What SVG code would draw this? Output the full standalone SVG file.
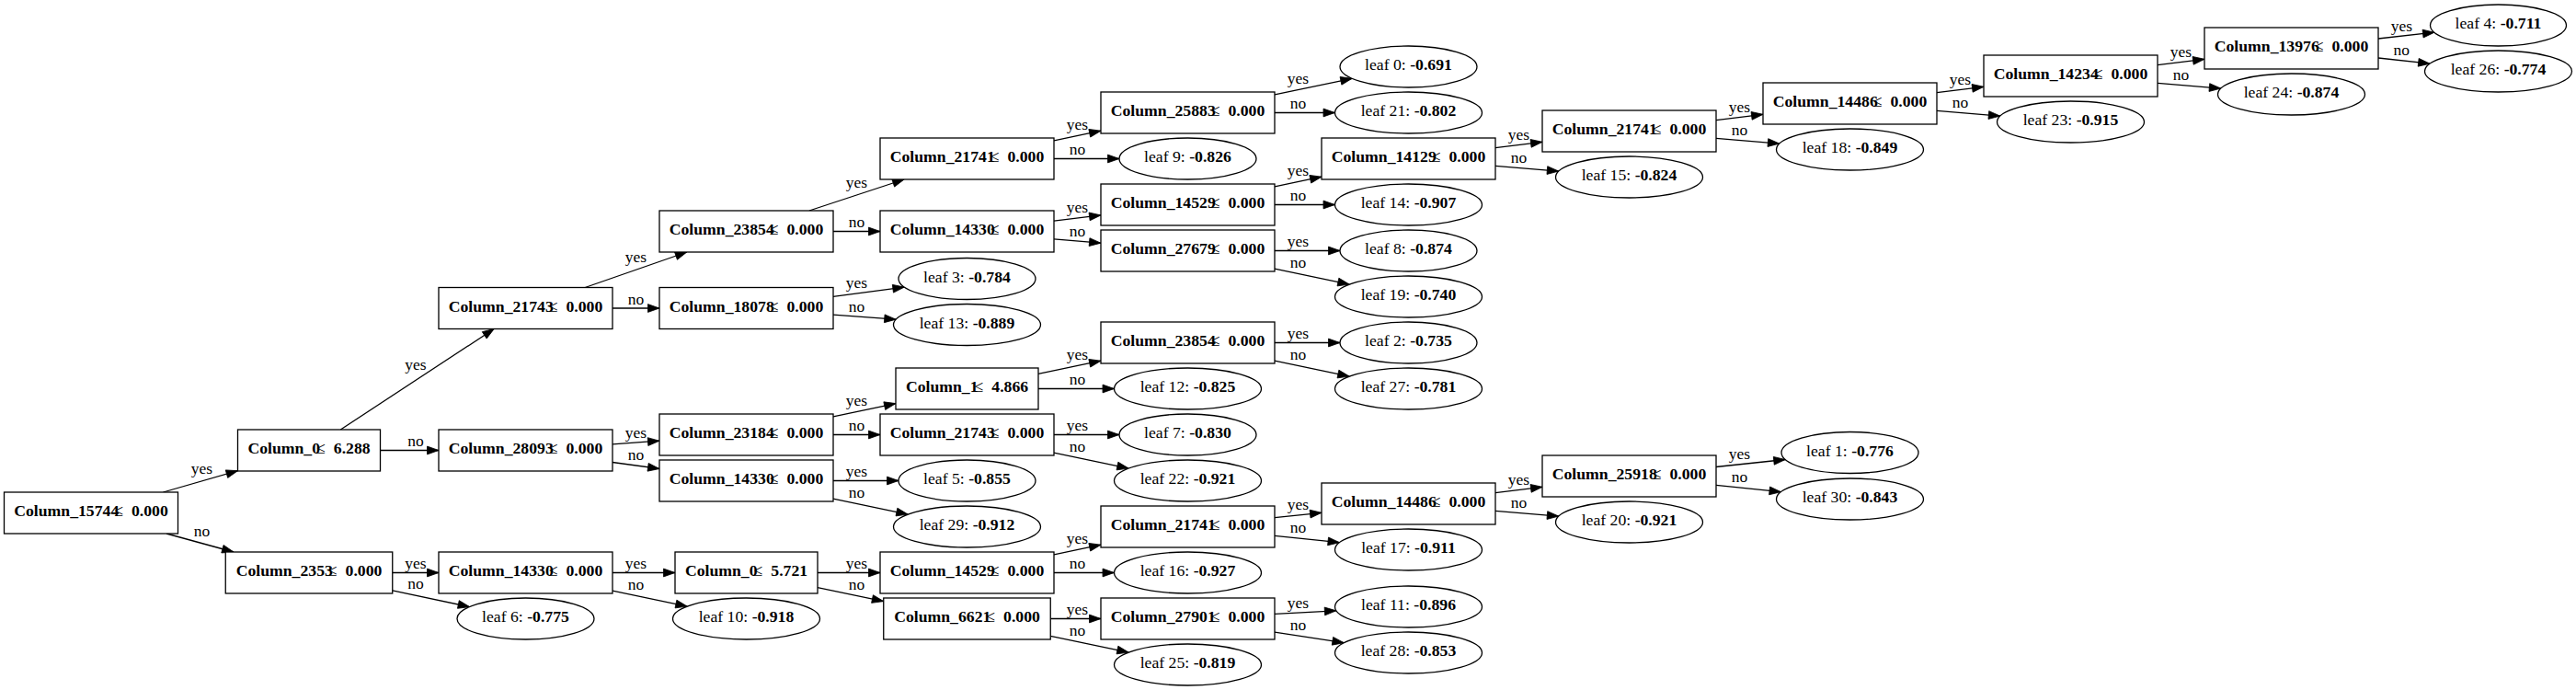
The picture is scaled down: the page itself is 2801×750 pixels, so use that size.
<svg xmlns="http://www.w3.org/2000/svg" width="2801" height="750" viewBox="0 0 2801 750">
<style>
.node rect,.node ellipse{fill:#fff;stroke:#000;stroke-width:1.3}
.node text{font-family:"Liberation Serif","Times New Roman",serif;font-size:17.7px;text-anchor:middle;fill:#000}
.b{font-weight:bold}
#edges path{fill:none;stroke:#000;stroke-width:1.3;marker-end:url(#arr)}
#edges text{font-family:"Liberation Serif","Times New Roman",serif;font-size:17.5px;text-anchor:middle;fill:#000}
</style>
<defs>
<marker id="arr" markerUnits="userSpaceOnUse" markerWidth="14" markerHeight="10" refX="12.5" refY="4.4" orient="auto" overflow="visible">
<path d="M0,0 L12.5,4.4 L0,8.8 Z" fill="#000" stroke="#000" stroke-width="0.8"/>
</marker>
</defs>
<rect width="2801" height="750" fill="#fff"/>
<g id="edges">
<path d="M177.4,535 L258.5,511.7"/><text x="219.4" y="515.3">yes</text>
<path d="M181,580 L254,600"/><text x="219.4" y="583">no</text>
<path d="M370.3,467 L537.2,357.5"/><text x="451.9" y="401.8">yes</text>
<path d="M413.5,489.5 L477,489.5"/><text x="451.9" y="485">no</text>
<path d="M636.2,312.5 L746.8,274"/><text x="691.5" y="285">yes</text>
<path d="M666,335 L717,335"/><text x="691.5" y="330.5">no</text>
<path d="M879.9,229 L983.1,195"/><text x="931.5" y="203.9">yes</text>
<path d="M906,251.5 L957,251.5"/><text x="931.5" y="247">no</text>
<path d="M1146,152.8 L1197,142.2"/><text x="1171.5" y="140.7">yes</text>
<path d="M1146,172.5 L1217,172.5"/><text x="1171.5" y="168">no</text>
<path d="M1386,102.8 L1470.2,85.3"/><text x="1411.5" y="90.7">yes</text>
<path d="M1386,122.5 L1451.5,122.5"/><text x="1411.5" y="118">no</text>
<path d="M1146,240.1 L1197,233.9"/><text x="1171.5" y="231.2">yes</text>
<path d="M1146,259.8 L1197,264.2"/><text x="1171.5" y="256.5">no</text>
<path d="M1386,202.8 L1437,192.2"/><text x="1411.5" y="190.7">yes</text>
<path d="M1386,222.5 L1451.5,222.5"/><text x="1411.5" y="218">no</text>
<path d="M1626,160.7 L1677,154.3"/><text x="1651.5" y="151.6">yes</text>
<path d="M1626,180.4 L1694.8,186.1"/><text x="1651.5" y="177.1">no</text>
<path d="M1866,130.7 L1917,124.3"/><text x="1891.5" y="121.6">yes</text>
<path d="M1866,150.4 L1934.8,156.1"/><text x="1891.5" y="147.1">no</text>
<path d="M2106,100.7 L2157,94.3"/><text x="2131.5" y="91.6">yes</text>
<path d="M2106,120.4 L2174.8,126.1"/><text x="2131.5" y="117.1">no</text>
<path d="M2346,70.7 L2397,64.3"/><text x="2371.5" y="61.6">yes</text>
<path d="M2346,90.4 L2414.8,96.1"/><text x="2371.5" y="87.1">no</text>
<path d="M2586,42 L2647,35.2"/><text x="2611.3" y="33.5">yes</text>
<path d="M2586,63 L2642.1,69.2"/><text x="2611.3" y="60.1">no</text>
<path d="M1386,272.5 L1457,272.5"/><text x="1411.5" y="268">yes</text>
<path d="M1386,292.2 L1467.2,309.1"/><text x="1411.5" y="290.7">no</text>
<path d="M906,322.4 L983.3,312.1"/><text x="931.5" y="313">yes</text>
<path d="M906,342.1 L974.2,347.2"/><text x="931.5" y="338.7">no</text>
<path d="M666,482.8 L717,479.2"/><text x="691.5" y="475.7">yes</text>
<path d="M666,502.5 L717,509.5"/><text x="691.5" y="500">no</text>
<path d="M906,452.8 L974,438.6"/><text x="931.5" y="440.7">yes</text>
<path d="M906,472.5 L957,472.5"/><text x="931.5" y="468">no</text>
<path d="M1129,406.4 L1197,392.2"/><text x="1171.5" y="390.7">yes</text>
<path d="M1129,422.5 L1211.5,422.5"/><text x="1171.5" y="418">no</text>
<path d="M1386,372.5 L1457,372.5"/><text x="1411.5" y="368">yes</text>
<path d="M1386,392.2 L1467.2,409.1"/><text x="1411.5" y="390.7">no</text>
<path d="M1146,472.5 L1217,472.5"/><text x="1171.5" y="468">yes</text>
<path d="M1146,492.2 L1227.2,509.1"/><text x="1171.5" y="490.7">no</text>
<path d="M906,522.5 L977,522.5"/><text x="931.5" y="518">yes</text>
<path d="M906,542.2 L987.2,559.1"/><text x="931.5" y="540.7">no</text>
<path d="M426.75,622.5 L477,622.5"/><text x="451.9" y="618">yes</text>
<path d="M426.75,641.8 L510.6,659.6"/><text x="451.9" y="640.3">no</text>
<path d="M666,622.5 L734,622.5"/><text x="691.5" y="618">yes</text>
<path d="M666,642.2 L747.2,659.1"/><text x="691.5" y="640.7">no</text>
<path d="M889,622.5 L957,622.5"/><text x="931.5" y="618">yes</text>
<path d="M889,638.6 L960.75,653.6"/><text x="931.5" y="640.7">no</text>
<path d="M1146,602.8 L1197,592.2"/><text x="1171.5" y="590.7">yes</text>
<path d="M1146,622.5 L1211.5,622.5"/><text x="1171.5" y="618">no</text>
<path d="M1386,562.7 L1437,557.3"/><text x="1411.5" y="554.4">yes</text>
<path d="M1386,582.3 L1456.5,589.7"/><text x="1411.5" y="579.4">no</text>
<path d="M1626,535.7 L1677,529.3"/><text x="1651.5" y="526.6">yes</text>
<path d="M1626,555.4 L1694.8,561.1"/><text x="1651.5" y="552.1">no</text>
<path d="M1866,507.5 L1941.2,499.5"/><text x="1891.5" y="499">yes</text>
<path d="M1866,527.3 L1936.5,534.7"/><text x="1891.5" y="524.4">no</text>
<path d="M1142.25,672.5 L1197,672.5"/><text x="1171.5" y="668">yes</text>
<path d="M1142.25,691.4 L1227.2,709.1"/><text x="1171.5" y="690.7">no</text>
<path d="M1386,667.4 L1452.9,663.8"/><text x="1411.5" y="660.9">yes</text>
<path d="M1386,687.1 L1461.3,698.7"/><text x="1411.5" y="684.8">no</text>
</g>
<g id="n0" class="node"><rect x="4.5" y="535" width="189" height="45"/><text x="99" y="561.3"><tspan class="b">Column_15744</tspan><tspan dx="-5">≤</tspan><tspan class="b" dx="9">0.000</tspan></text></g>
<g id="n1" class="node"><rect x="258.5" y="467" width="155" height="45"/><text x="336" y="493.3"><tspan class="b">Column_0</tspan><tspan dx="-4">≤</tspan><tspan class="b" dx="9">6.288</tspan></text></g>
<g id="n2" class="node"><rect x="245.25" y="600" width="181.5" height="45"/><text x="336" y="626.3"><tspan class="b">Column_2353</tspan><tspan dx="-5">≤</tspan><tspan class="b" dx="9">0.000</tspan></text></g>
<g id="n3" class="node"><rect x="477" y="312.5" width="189" height="45"/><text x="571.5" y="338.8"><tspan class="b">Column_21743</tspan><tspan dx="-5">≤</tspan><tspan class="b" dx="9">0.000</tspan></text></g>
<g id="n4" class="node"><rect x="477" y="467" width="189" height="45"/><text x="571.5" y="493.3"><tspan class="b">Column_28093</tspan><tspan dx="-5">≤</tspan><tspan class="b" dx="9">0.000</tspan></text></g>
<g id="n5" class="node"><rect x="477" y="600" width="189" height="45"/><text x="571.5" y="626.3"><tspan class="b">Column_14330</tspan><tspan dx="-5">≤</tspan><tspan class="b" dx="9">0.000</tspan></text></g>
<g id="n6" class="node"><rect x="717" y="229" width="189" height="45"/><text x="811.5" y="255.3"><tspan class="b">Column_23854</tspan><tspan dx="-5">≤</tspan><tspan class="b" dx="9">0.000</tspan></text></g>
<g id="n7" class="node"><rect x="717" y="312.5" width="189" height="45"/><text x="811.5" y="338.8"><tspan class="b">Column_18078</tspan><tspan dx="-5">≤</tspan><tspan class="b" dx="9">0.000</tspan></text></g>
<g id="n8" class="node"><rect x="717" y="450" width="189" height="45"/><text x="811.5" y="476.3"><tspan class="b">Column_23184</tspan><tspan dx="-5">≤</tspan><tspan class="b" dx="9">0.000</tspan></text></g>
<g id="n9" class="node"><rect x="717" y="500" width="189" height="45"/><text x="811.5" y="526.3"><tspan class="b">Column_14330</tspan><tspan dx="-5">≤</tspan><tspan class="b" dx="9">0.000</tspan></text></g>
<g id="n10" class="node"><rect x="734" y="600" width="155" height="45"/><text x="811.5" y="626.3"><tspan class="b">Column_0</tspan><tspan dx="-4">≤</tspan><tspan class="b" dx="9">5.721</tspan></text></g>
<g id="n11" class="node"><rect x="957" y="150" width="189" height="45"/><text x="1051.5" y="176.3"><tspan class="b">Column_21741</tspan><tspan dx="-5">≤</tspan><tspan class="b" dx="9">0.000</tspan></text></g>
<g id="n12" class="node"><rect x="957" y="229" width="189" height="45"/><text x="1051.5" y="255.3"><tspan class="b">Column_14330</tspan><tspan dx="-5">≤</tspan><tspan class="b" dx="9">0.000</tspan></text></g>
<g id="n13" class="node"><rect x="974" y="400" width="155" height="45"/><text x="1051.5" y="426.3"><tspan class="b">Column_1</tspan><tspan dx="-4">≤</tspan><tspan class="b" dx="9">4.866</tspan></text></g>
<g id="n14" class="node"><rect x="957" y="450" width="189" height="45"/><text x="1051.5" y="476.3"><tspan class="b">Column_21743</tspan><tspan dx="-5">≤</tspan><tspan class="b" dx="9">0.000</tspan></text></g>
<g id="n15" class="node"><rect x="957" y="600" width="189" height="45"/><text x="1051.5" y="626.3"><tspan class="b">Column_14529</tspan><tspan dx="-5">≤</tspan><tspan class="b" dx="9">0.000</tspan></text></g>
<g id="n16" class="node"><rect x="960.75" y="650" width="181.5" height="45"/><text x="1051.5" y="676.3"><tspan class="b">Column_6621</tspan><tspan dx="-5">≤</tspan><tspan class="b" dx="9">0.000</tspan></text></g>
<g id="n17" class="node"><rect x="1197" y="100" width="189" height="45"/><text x="1291.5" y="126.3"><tspan class="b">Column_25883</tspan><tspan dx="-5">≤</tspan><tspan class="b" dx="9">0.000</tspan></text></g>
<g id="n18" class="node"><rect x="1197" y="200" width="189" height="45"/><text x="1291.5" y="226.3"><tspan class="b">Column_14529</tspan><tspan dx="-5">≤</tspan><tspan class="b" dx="9">0.000</tspan></text></g>
<g id="n19" class="node"><rect x="1197" y="250" width="189" height="45"/><text x="1291.5" y="276.3"><tspan class="b">Column_27679</tspan><tspan dx="-5">≤</tspan><tspan class="b" dx="9">0.000</tspan></text></g>
<g id="n20" class="node"><rect x="1197" y="350" width="189" height="45"/><text x="1291.5" y="376.3"><tspan class="b">Column_23854</tspan><tspan dx="-5">≤</tspan><tspan class="b" dx="9">0.000</tspan></text></g>
<g id="n21" class="node"><rect x="1197" y="550" width="189" height="45"/><text x="1291.5" y="576.3"><tspan class="b">Column_21741</tspan><tspan dx="-5">≤</tspan><tspan class="b" dx="9">0.000</tspan></text></g>
<g id="n22" class="node"><rect x="1197" y="650" width="189" height="45"/><text x="1291.5" y="676.3"><tspan class="b">Column_27901</tspan><tspan dx="-5">≤</tspan><tspan class="b" dx="9">0.000</tspan></text></g>
<g id="n23" class="node"><rect x="1437" y="150" width="189" height="45"/><text x="1531.5" y="176.3"><tspan class="b">Column_14129</tspan><tspan dx="-5">≤</tspan><tspan class="b" dx="9">0.000</tspan></text></g>
<g id="n24" class="node"><rect x="1437" y="525" width="189" height="45"/><text x="1531.5" y="551.3"><tspan class="b">Column_14486</tspan><tspan dx="-5">≤</tspan><tspan class="b" dx="9">0.000</tspan></text></g>
<g id="n25" class="node"><rect x="1677" y="120" width="189" height="45"/><text x="1771.5" y="146.3"><tspan class="b">Column_21741</tspan><tspan dx="-5">≤</tspan><tspan class="b" dx="9">0.000</tspan></text></g>
<g id="n26" class="node"><rect x="1677" y="495" width="189" height="45"/><text x="1771.5" y="521.3"><tspan class="b">Column_25918</tspan><tspan dx="-5">≤</tspan><tspan class="b" dx="9">0.000</tspan></text></g>
<g id="n27" class="node"><rect x="1917" y="90" width="189" height="45"/><text x="2011.5" y="116.3"><tspan class="b">Column_14486</tspan><tspan dx="-5">≤</tspan><tspan class="b" dx="9">0.000</tspan></text></g>
<g id="n28" class="node"><rect x="2157" y="60" width="189" height="45"/><text x="2251.5" y="86.3"><tspan class="b">Column_14234</tspan><tspan dx="-5">≤</tspan><tspan class="b" dx="9">0.000</tspan></text></g>
<g id="n29" class="node"><rect x="2397" y="30" width="189" height="45"/><text x="2491.5" y="56.3"><tspan class="b">Column_13976</tspan><tspan dx="-5">≤</tspan><tspan class="b" dx="9">0.000</tspan></text></g>
<g id="leaf0" class="node"><ellipse cx="1531.5" cy="72.5" rx="74.5" ry="22.5"/><text x="1531.5" y="76.3">leaf 0: <tspan class="b">-0.691</tspan></text></g>
<g id="leaf21" class="node"><ellipse cx="1531.5" cy="122.5" rx="80" ry="22.5"/><text x="1531.5" y="126.3">leaf 21: <tspan class="b">-0.802</tspan></text></g>
<g id="leaf14" class="node"><ellipse cx="1531.5" cy="222.5" rx="80" ry="22.5"/><text x="1531.5" y="226.3">leaf 14: <tspan class="b">-0.907</tspan></text></g>
<g id="leaf8" class="node"><ellipse cx="1531.5" cy="272.5" rx="74.5" ry="22.5"/><text x="1531.5" y="276.3">leaf 8: <tspan class="b">-0.874</tspan></text></g>
<g id="leaf19" class="node"><ellipse cx="1531.5" cy="322.5" rx="80" ry="22.5"/><text x="1531.5" y="326.3">leaf 19: <tspan class="b">-0.740</tspan></text></g>
<g id="leaf2" class="node"><ellipse cx="1531.5" cy="372.5" rx="74.5" ry="22.5"/><text x="1531.5" y="376.3">leaf 2: <tspan class="b">-0.735</tspan></text></g>
<g id="leaf27" class="node"><ellipse cx="1531.5" cy="422.5" rx="80" ry="22.5"/><text x="1531.5" y="426.3">leaf 27: <tspan class="b">-0.781</tspan></text></g>
<g id="leaf17" class="node"><ellipse cx="1531.5" cy="597.5" rx="80" ry="22.5"/><text x="1531.5" y="601.3">leaf 17: <tspan class="b">-0.911</tspan></text></g>
<g id="leaf11" class="node"><ellipse cx="1531.5" cy="659.5" rx="80" ry="22.5"/><text x="1531.5" y="663.3">leaf 11: <tspan class="b">-0.896</tspan></text></g>
<g id="leaf28" class="node"><ellipse cx="1531.5" cy="709.5" rx="80" ry="22.5"/><text x="1531.5" y="713.3">leaf 28: <tspan class="b">-0.853</tspan></text></g>
<g id="leaf9" class="node"><ellipse cx="1291.5" cy="172.5" rx="74.5" ry="22.5"/><text x="1291.5" y="176.3">leaf 9: <tspan class="b">-0.826</tspan></text></g>
<g id="leaf12" class="node"><ellipse cx="1291.5" cy="422.5" rx="80" ry="22.5"/><text x="1291.5" y="426.3">leaf 12: <tspan class="b">-0.825</tspan></text></g>
<g id="leaf7" class="node"><ellipse cx="1291.5" cy="472.5" rx="74.5" ry="22.5"/><text x="1291.5" y="476.3">leaf 7: <tspan class="b">-0.830</tspan></text></g>
<g id="leaf22" class="node"><ellipse cx="1291.5" cy="522.5" rx="80" ry="22.5"/><text x="1291.5" y="526.3">leaf 22: <tspan class="b">-0.921</tspan></text></g>
<g id="leaf16" class="node"><ellipse cx="1291.5" cy="622.5" rx="80" ry="22.5"/><text x="1291.5" y="626.3">leaf 16: <tspan class="b">-0.927</tspan></text></g>
<g id="leaf25" class="node"><ellipse cx="1291.5" cy="722.5" rx="80" ry="22.5"/><text x="1291.5" y="726.3">leaf 25: <tspan class="b">-0.819</tspan></text></g>
<g id="leaf3" class="node"><ellipse cx="1051.5" cy="303" rx="74.5" ry="22.5"/><text x="1051.5" y="306.8">leaf 3: <tspan class="b">-0.784</tspan></text></g>
<g id="leaf13" class="node"><ellipse cx="1051.5" cy="353" rx="80" ry="22.5"/><text x="1051.5" y="356.8">leaf 13: <tspan class="b">-0.889</tspan></text></g>
<g id="leaf5" class="node"><ellipse cx="1051.5" cy="522.5" rx="74.5" ry="22.5"/><text x="1051.5" y="526.3">leaf 5: <tspan class="b">-0.855</tspan></text></g>
<g id="leaf29" class="node"><ellipse cx="1051.5" cy="572.5" rx="80" ry="22.5"/><text x="1051.5" y="576.3">leaf 29: <tspan class="b">-0.912</tspan></text></g>
<g id="leaf10" class="node"><ellipse cx="811.5" cy="672.5" rx="80" ry="22.5"/><text x="811.5" y="676.3">leaf 10: <tspan class="b">-0.918</tspan></text></g>
<g id="leaf6" class="node"><ellipse cx="571.5" cy="672.5" rx="74.5" ry="22.5"/><text x="571.5" y="676.3">leaf 6: <tspan class="b">-0.775</tspan></text></g>
<g id="leaf15" class="node"><ellipse cx="1771.5" cy="192.5" rx="80" ry="22.5"/><text x="1771.5" y="196.3">leaf 15: <tspan class="b">-0.824</tspan></text></g>
<g id="leaf20" class="node"><ellipse cx="1771.5" cy="567.5" rx="80" ry="22.5"/><text x="1771.5" y="571.3">leaf 20: <tspan class="b">-0.921</tspan></text></g>
<g id="leaf18" class="node"><ellipse cx="2011.5" cy="162.5" rx="80" ry="22.5"/><text x="2011.5" y="166.3">leaf 18: <tspan class="b">-0.849</tspan></text></g>
<g id="leaf1" class="node"><ellipse cx="2011.5" cy="492" rx="74.5" ry="22.5"/><text x="2011.5" y="495.8">leaf 1: <tspan class="b">-0.776</tspan></text></g>
<g id="leaf30" class="node"><ellipse cx="2011.5" cy="542.5" rx="80" ry="22.5"/><text x="2011.5" y="546.3">leaf 30: <tspan class="b">-0.843</tspan></text></g>
<g id="leaf23" class="node"><ellipse cx="2251.5" cy="132.5" rx="80" ry="22.5"/><text x="2251.5" y="136.3">leaf 23: <tspan class="b">-0.915</tspan></text></g>
<g id="leaf24" class="node"><ellipse cx="2491.5" cy="102.5" rx="80" ry="22.5"/><text x="2491.5" y="106.3">leaf 24: <tspan class="b">-0.874</tspan></text></g>
<g id="leaf4" class="node"><ellipse cx="2716.5" cy="27.5" rx="74" ry="22.5"/><text x="2716.5" y="31.3">leaf 4: <tspan class="b">-0.711</tspan></text></g>
<g id="leaf26" class="node"><ellipse cx="2716.5" cy="77.5" rx="80" ry="22.5"/><text x="2716.5" y="81.3">leaf 26: <tspan class="b">-0.774</tspan></text></g>
</svg>
